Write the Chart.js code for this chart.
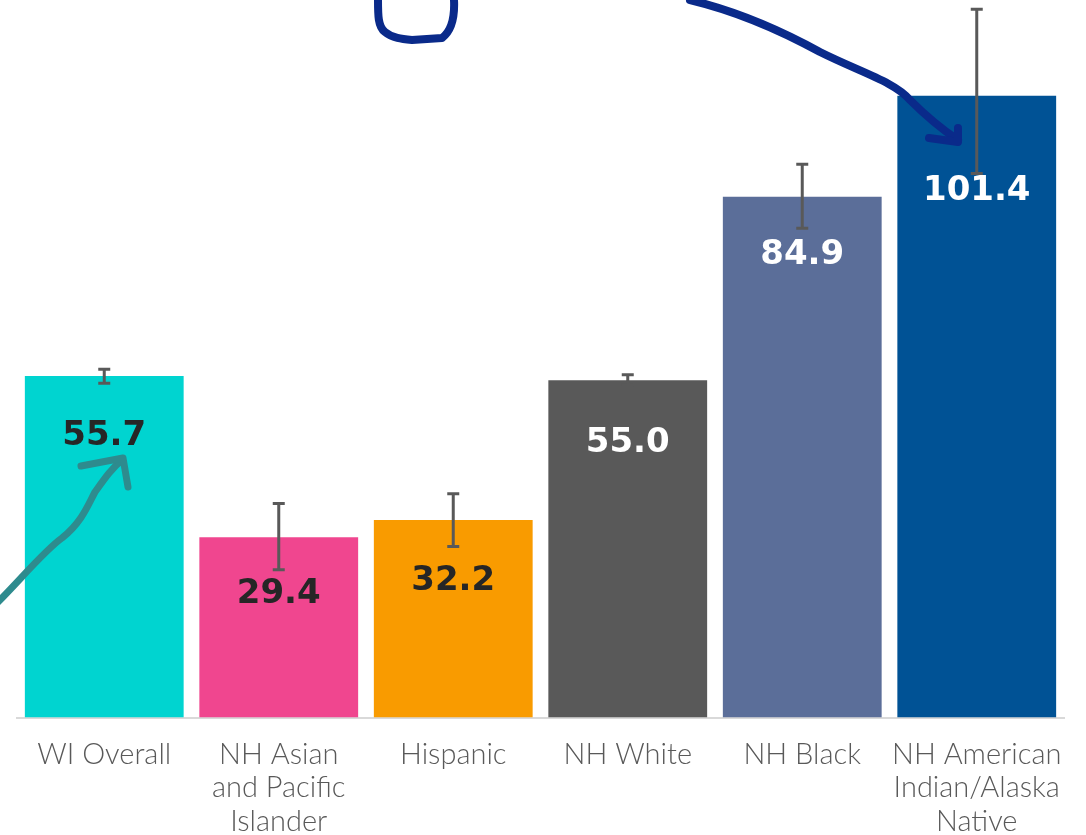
<!DOCTYPE html>
<html>
<head>
<meta charset="utf-8">
<script src="https://cdn.jsdelivr.net/npm/chart.js@4"></script>
<style>
  body { margin: 0; background: #fff; }
  #rateChart { display: block; }
</style>
</head>
<body>
<canvas id="rateChart" width="1086" height="835"></canvas>
<script>
const groups = [
  ['WI Overall'],
  ['NH Asian', 'and Pacific', 'Islander'],
  ['Hispanic'],
  ['NH White'],
  ['NH Black'],
  ['NH American', 'Indian/Alaska', 'Native']
];
const rates = [55.7, 29.4, 32.2, 55.0, 84.9, 101.4];
const ciLow = [54.5, 24.1, 27.9, 54.2, 79.8, 88.7];
const ciHigh = [56.8, 34.9, 36.5, 55.9, 90.2, 115.5];

const barColors = ['#00D4D0', '#F0468F', '#F99B00', '#595959', '#5B6E99', '#005295'];
const labelColors = ['#262626', '#262626', '#262626', '#ffffff', '#ffffff', '#ffffff'];
const labelDrop = [60, 57, 61, 63, 58, 96];

// error bars drawn from the y scale
const errorBars = {
  id: 'errorBars',
  afterDatasetsDraw(chart) {
    const ctx = chart.ctx;
    const y = chart.scales.y;
    const meta = chart.getDatasetMeta(0);
    ctx.save();
    ctx.strokeStyle = '#595959';
    ctx.lineWidth = 3;
    meta.data.forEach((bar, i) => {
      const top = y.getPixelForValue(ciHigh[i]);
      const bot = y.getPixelForValue(ciLow[i]);
      ctx.beginPath();
      ctx.moveTo(bar.x, top);
      ctx.lineTo(bar.x, bot);
      ctx.moveTo(bar.x - 6, top);
      ctx.lineTo(bar.x + 6, top);
      ctx.moveTo(bar.x - 6, bot);
      ctx.lineTo(bar.x + 6, bot);
      ctx.stroke();
    });
    ctx.restore();
  }
};

// values written inside the bars
const valueLabels = {
  id: 'valueLabels',
  afterDatasetsDraw(chart) {
    const ctx = chart.ctx;
    const meta = chart.getDatasetMeta(0);
    ctx.save();
    ctx.font = 'bold 34px "DejaVu Sans"';
    ctx.textAlign = 'center';
    ctx.textBaseline = 'middle';
    meta.data.forEach((bar, i) => {
      ctx.fillStyle = labelColors[i];
      ctx.fillText(rates[i].toFixed(1), bar.x, bar.y + labelDrop[i]);
    });
    ctx.restore();
  }
};

// hand-drawn marks on the picture
const scribbles = {
  id: 'scribbles',
  afterDraw(chart) {
    const ctx = chart.ctx;
    ctx.save();
    ctx.lineCap = 'round';
    ctx.lineJoin = 'round';

    ctx.strokeStyle = '#2E8B8E';
    ctx.lineWidth = 7;
    ctx.beginPath();
    ctx.moveTo(-2, 602);
    ctx.bezierCurveTo(20, 580, 45, 550, 62, 538);
    ctx.bezierCurveTo(82, 522, 88, 505, 95, 492);
    ctx.bezierCurveTo(105, 478, 112, 468, 122, 460);
    ctx.stroke();
    ctx.beginPath();
    ctx.moveTo(81, 466);
    ctx.lineTo(123, 458);
    ctx.lineTo(128, 487);
    ctx.stroke();

    ctx.strokeStyle = '#0A2A8A';
    ctx.lineWidth = 8;
    ctx.beginPath();
    ctx.moveTo(690, 0);
    ctx.bezierCurveTo(740, 12, 780, 30, 820, 52);
    ctx.bezierCurveTo(860, 72, 895, 82, 910, 100);
    ctx.bezierCurveTo(925, 115, 940, 128, 958, 140);
    ctx.stroke();
    ctx.beginPath();
    ctx.moveTo(929, 138);
    ctx.lineTo(958, 142);
    ctx.lineTo(958, 128);
    ctx.stroke();

    ctx.beginPath();
    ctx.moveTo(378, 0);
    ctx.bezierCurveTo(378, 15, 378, 27, 385, 32);
    ctx.bezierCurveTo(392, 38, 402, 39, 412, 40);
    ctx.lineTo(442, 38);
    ctx.bezierCurveTo(450, 32, 455, 20, 454, 0);
    ctx.stroke();
    ctx.restore();
  }
};

new Chart(document.getElementById('rateChart'), {
  type: 'bar',
  data: {
    labels: groups,
    datasets: [{
      data: rates,
      backgroundColor: barColors,
      borderWidth: 0,
      categoryPercentage: 0.91,
      barPercentage: 1
    }]
  },
  options: {
    responsive: false,
    animation: false,
    layout: { padding: { left: 17, right: 22, top: 0, bottom: -23 } },
    plugins: {
      legend: { display: false },
      tooltip: { enabled: false }
    },
    scales: {
      y: {
        display: false,
        min: 0,
        max: 117
      },
      x: {
        grid: { display: false, drawTicks: false },
        border: { display: true, color: '#d9d9d9', width: 2 },
        ticks: {
          color: '#595959',
          padding: 20,
          maxRotation: 0,
          autoSkip: false,
          font: { family: 'Lato', weight: '300', size: 29, lineHeight: 1.155 }
        }
      }
    }
  },
  plugins: [errorBars, valueLabels, scribbles]
});
</script>
</body>
</html>
